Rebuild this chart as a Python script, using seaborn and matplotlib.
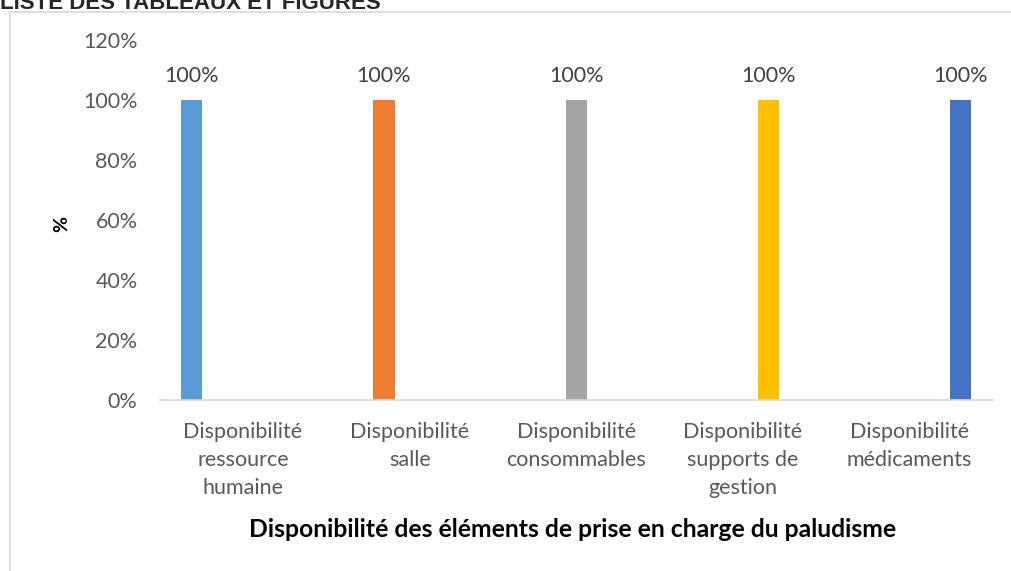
import pandas as pd
import matplotlib.pyplot as plt
import seaborn as sns
from matplotlib.lines import Line2D

# chart data
categories = ["Disponibilité\nressource\nhumaine", "Disponibilité\nsalle",
              "Disponibilité\nconsommables", "Disponibilité\nsupports de\ngestion",
              "Disponibilité\nmédicaments"]
series = ["ressource humaine", "salle", "consommables", "supports de gestion", "médicaments"]
values = [100, 100, 100, 100, 100]
colors = ["#5B9BD5", "#ED7D31", "#A5A5A5", "#FFC000", "#4472C4"]

# each series only has a value in its own category (Excel-like grouped layout)
rows = []
for i, cat in enumerate(categories):
    for j, s in enumerate(series):
        rows.append({"cat": cat, "serie": s, "val": values[j] if i == j else 0})
df = pd.DataFrame(rows)

sns.set_theme(style="white")
plt.rcParams["font.family"] = ["Lato", "DejaVu Sans"]

fig = plt.figure(figsize=(10.11, 5.71), dpi=100)
ax = fig.add_axes([0.158, 0.2995, 0.824, 0.6305])

sns.barplot(data=df, x="cat", y="val", hue="serie", palette=colors, dodge=True,
            saturation=1, width=0.77, gap=0.18, linewidth=0, legend=False, ax=ax)

for cont in ax.containers:
    labels = [f"{b.get_height():.0f}%" if b.get_height() > 0 else "" for b in cont]
    ax.bar_label(cont, labels=labels, padding=10, fontsize=15.5, color="#404040")

ax.set_ylim(0, 120)
ax.set_yticks(range(0, 121, 20))
ax.set_yticklabels([f"{t}%" for t in range(0, 121, 20)])
ax.set_xlim(-0.5, 4.5)
ax.tick_params(axis="both", length=0, labelsize=15.5, colors="#595959")
ax.tick_params(axis="y", pad=16)
ax.tick_params(axis="x", pad=16)
for lab in ax.get_xticklabels():
    lab.set_linespacing(1.5)

for side in ["top", "right", "left"]:
    ax.spines[side].set_visible(False)
ax.spines["bottom"].set_color("#D9D9D9")
ax.spines["bottom"].set_linewidth(1.2)

ax.set_xlabel("Disponibilité des éléments de prise en charge du paludisme",
              fontsize=17.8, fontweight="bold", color="black")
ax.xaxis.set_label_coords(0.495, -0.36)
ax.xaxis.label.set_va("center")
ax.set_ylabel("%", fontsize=14, fontweight="bold", color="black")
ax.yaxis.set_label_coords(-0.108, 0.49)

# chart frame (top and left edges visible)
fig.add_artist(Line2D([9 / 1011, 1], [1 - 12 / 571, 1 - 12 / 571], color="#D9D9D9", lw=1.2))
fig.add_artist(Line2D([9.5 / 1011, 9.5 / 1011], [0, 1 - 12 / 571], color="#D9D9D9", lw=1.2))

# page heading cut off at top
fig.text(0.0, 1 - 9 / 571, "LISTE DES TABLEAUX ET FIGURES", fontsize=16,
         fontweight="bold", family=["Liberation Sans", "DejaVu Sans"], va="baseline")

fig.savefig("out.png", dpi=100)
